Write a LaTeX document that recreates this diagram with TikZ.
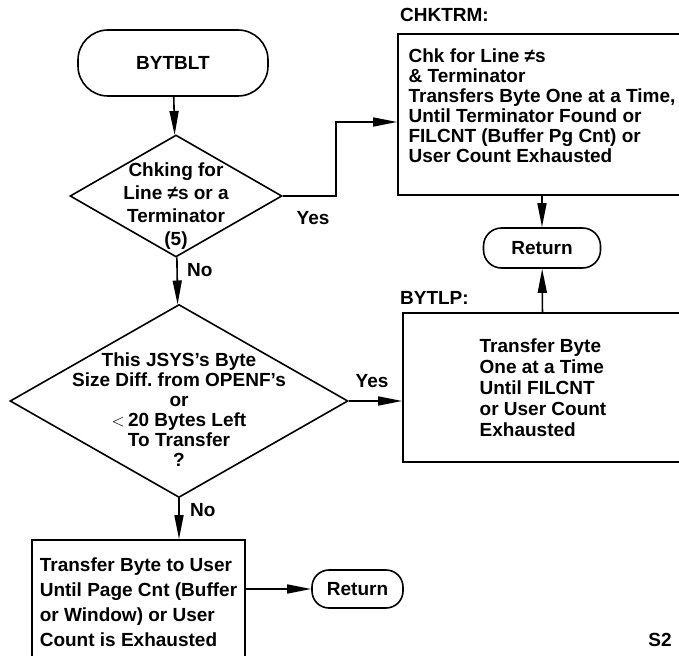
\documentclass[tikz,border=0pt]{standalone}
\usepackage{fontspec}
\setmainfont{Liberation Sans}
\usepackage{tikz}
\usetikzlibrary{positioning}
\usetikzlibrary{shapes.geometric,arrows.meta}

\begin{document}
\begin{tikzpicture}[x=1pt,y=-1pt,line width=1.6pt,
	every node/.style={font=\bfseries\fontsize{19}{20}\selectfont},
	term/.style={draw,rectangle,inner sep=0pt},
	box/.style={draw,rectangle,align=left,inner sep=0pt},
	test/.style={draw,diamond,inner sep=0pt},
	flow/.style={-{Triangle[length=24pt,width=9pt]}}]
	\useasboundingbox (0,0) rectangle (679,655);
	\clip (0,0) rectangle (679,655);

	\node[term,minimum width=190,minimum height=66,rounded corners=30pt](start) at (173,63){BYTBLT};
	\node[test,minimum width=212,minimum height=122](chking) at (176,196){};
	\node[align=center,font=\bfseries\fontsize{19}{23}\selectfont](chkingtxt) at (176,206){Chking for\\Line ≠s or a\\Terminator\\(5)};

	\node[box,minimum width=288,minimum height=161](chktrm) at (542,114.5){};
	\node[align=left](chktrmtxt) at (542,106){Chk for Line ≠s\\\& Terminator\\Transfers Byte One at a Time,\\Until Terminator Found or\\FILCNT (Buffer Pg Cnt) or\\User Count Exhausted};
	\node[anchor=west](chktrmlbl) at (396,15){CHKTRM:};
	\node[term,minimum width=117,minimum height=40,rounded corners=18pt](ret1) at (542,248){Return};

	\node[box,minimum width=280,minimum height=149,font=\bfseries\fontsize{19}{21}\selectfont](bytlp) at (543,387.5){Transfer Byte\\One at a Time\\Until FILCNT\\or User Count\\Exhausted};
	\node[anchor=west](bytlplbl) at (396,298){BYTLP:};

	\node[test,minimum width=338,minimum height=193](bsize) at (179,401){};
	\node[align=center](bsizetxt) at (179,410){This JSYS's Byte\\Size Diff.\ from OPENF's\\or\\$<$\,20 Bytes Left\\To Transfer\\?};

	\node[box,minimum width=213,minimum height=125,font=\bfseries\fontsize{19}{25}\selectfont](touser) at (138.5,602.5){Transfer Byte to User\\Until Page Cnt (Buffer\\or Window) or User\\Count is Exhausted};
	\node[term,minimum width=91,minimum height=38,rounded corners=17pt](ret2) at (357.5,589){Return};

	\node(yes1) at (313,218){Yes};
	\node[anchor=west](no1) at (183,270){No};
	\node(yes2) at (372,381){Yes};
	\node[anchor=west](no2) at (186,510){No};
	\node(sheet) at (660,640){S2};

	\draw[flow] (start) -- (chking);
	\draw[flow] (chking.east) -- ++(53,0) |- ([yshift=-7.5pt]chktrm.west);
	\draw[flow] (chking) -- (bsize);
	\draw[flow] (chktrm) -- (ret1);
	\draw[flow] (bytlp) -- (ret1);
	\draw[flow] (bsize.east) -- (bsize.east -| bytlp.west);
	\draw[flow] (bsize.south) -- (bsize.south |- touser.north);
	\draw[flow] (ret2.west -| touser.east) -- (ret2);
\end{tikzpicture}
\end{document}
